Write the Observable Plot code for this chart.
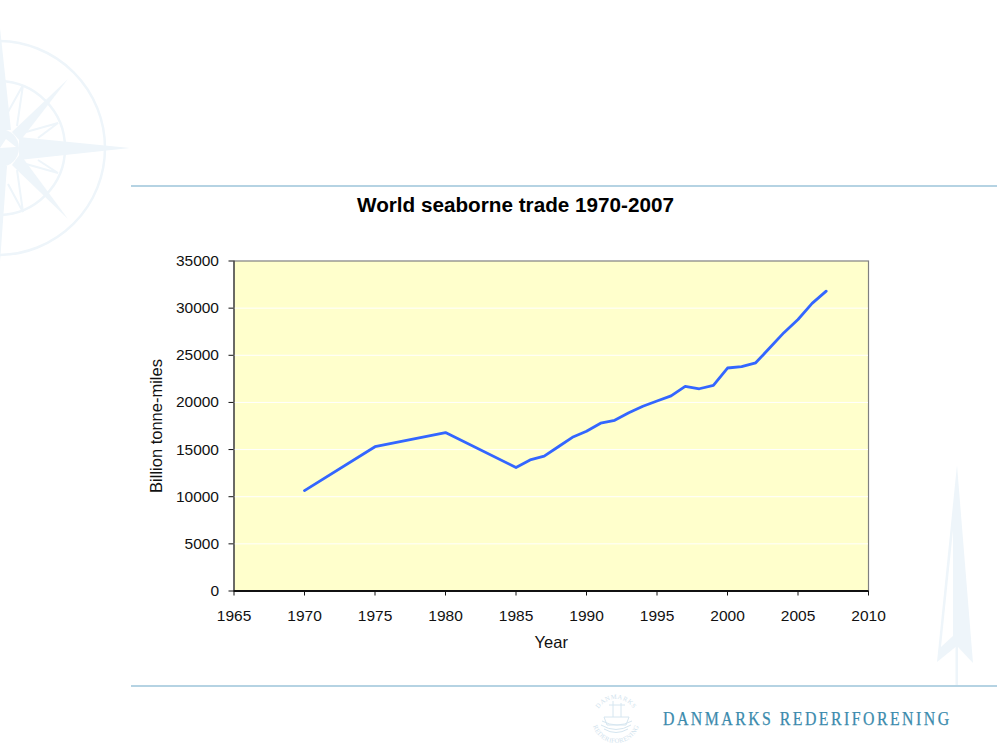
<!DOCTYPE html>
<html>
<head>
<meta charset="utf-8">
<script src="https://cdn.jsdelivr.net/npm/d3@7"></script>
<script src="https://cdn.jsdelivr.net/npm/@observablehq/plot@0.6"></script>
<style>
html,body{margin:0;padding:0;background:#fff;overflow:hidden}
#page{position:relative;width:997px;height:749px;overflow:hidden;font-family:"Liberation Sans",Arial,sans-serif}
#deco,#chart{position:absolute;left:0;top:0}
#chart svg{display:block;background:transparent}
#title{position:absolute;left:257px;width:517px;top:193px;text-align:center;font:bold 20.7px "Liberation Sans",Arial,sans-serif;color:#000;line-height:24px}
#brand{position:absolute;left:663px;top:708px;font:18px "Liberation Serif",serif;letter-spacing:2.8px;color:#3b8bad;line-height:22px;white-space:nowrap;-webkit-text-stroke:0.25px #3b8bad;transform:scaleX(0.88);transform-origin:left center}
</style>
</head>
<body>
<div id="page">
<svg id="deco" width="997" height="749" viewBox="0 0 997 749">
  <g fill="none" stroke="#eef5fa" stroke-width="2.5">
    <circle cx="-2" cy="148" r="107"/>
    <circle cx="-2" cy="148" r="67"/>
  </g>
  <g fill="#eef5fa">
    <polygon points="19,137 130,148 19,160"/>
    <polygon points="0,28 11,130 0,130"/>
    <polygon points="0,262 7,166 0,166"/>
    <polygon points="12,132 68,79 20,141"/>
    <polygon points="12,165 68,219 20,154"/>
    <circle cx="0" cy="148" r="19"/>
  </g>
  <g fill="none" stroke="#eef5fa" stroke-width="2">
    <polyline points="8,112 23,85 17,126"/>
    <polyline points="8,184 23,212 17,170"/>
    <polyline points="26,132 58,123 38,138"/>
    <polyline points="26,164 58,173 38,160"/>
  </g>
  <polygon fill="#ffffff" points="0,148 16,147 6,139"/>
  <path fill="#eef5fa" fill-rule="evenodd" d="M957,465 L973,663 L958,647 L958,685 L955.5,685 L955.5,647 L937,662 Z M953,530 L941,647 L953,636 Z"/>
  <line x1="131" x2="997" y1="186" y2="186" stroke="#9cc4da" stroke-width="1.4"/>
  <line x1="131" x2="997" y1="686" y2="686" stroke="#9cc4da" stroke-width="1.4"/>
  <g fill="none" stroke="#d6e6f0" stroke-width="1">
    <path d="M601,725 q15,9 30,0 M604,729 q12,7 24,0 M602,721 q15,8 30,0"/>
    <path d="M604,717 L629,717 L626,725 L607,725 Z M613,717 V701 M621,717 V703 M609,705 H625"/>
  </g>
  <defs>
    <path id="sealTop" d="M596,719 A20,20 0 0 1 636,719"/>
    <path id="sealBottom" d="M592,719 A24,24 0 0 0 640,719"/>
  </defs>
  <g fill="#cfe2ed" font-family="Liberation Serif, serif" font-size="6.5">
    <text letter-spacing="0.5"><textPath href="#sealTop" startOffset="50%" text-anchor="middle">DANMARKS</textPath></text>
    <text letter-spacing="0.3"><textPath href="#sealBottom" startOffset="50%" text-anchor="middle">REDERIFORENING</textPath></text>
  </g>
</svg>
<div id="chart"></div>
<div id="title">World seaborne trade 1970-2007</div>
<div id="brand">DANMARKS REDERIFORENING</div>
</div>
<script>
const years = [1970,1975,1980,1985,1986,1987,1988,1989,1990,1991,1992,1993,1994,1995,1996,1997,1998,1999,2000,2001,2002,2003,2004,2005,2006,2007];
const tonneMiles = [10650,15300,16800,13100,13900,14300,15300,16300,16950,17800,18100,18900,19600,20150,20700,21700,21450,21800,23650,23800,24200,25800,27400,28800,30500,31800];
const xTicks = [1965,1970,1975,1980,1985,1990,1995,2000,2005,2010];
const yTicks = [0,5000,10000,15000,20000,25000,30000,35000];
const gridTicks = [5000,10000,15000,20000,25000,30000];
const series = years.map((year,i)=>({year,value:tonneMiles[i]}));

const plot = Plot.plot({
  width: 997,
  height: 749,
  marginLeft: 233.5,
  marginRight: 129,
  marginTop: 260.5,
  marginBottom: 158.5,
  style: {fontFamily: '"Liberation Sans",Arial,sans-serif', fontSize: "15.5px", color: "#111", background: "transparent", overflow: "visible"},
  x: {domain: [1965,2010]},
  y: {domain: [0,35000]},
  marks: [
    Plot.frame({fill: "#ffffcc", stroke: "#808080", strokeWidth: 1.2}),
    Plot.ruleY(gridTicks, {stroke: "#ffffff", strokeWidth: 1}),
    Plot.axisY({ticks: yTicks, tickFormat: d=>String(d), tickSize: 5, tickPadding: 10, stroke: "#111", label: null, fontSize: 15.5}),
    Plot.axisX({ticks: xTicks, tickFormat: d=>String(d), tickSize: 5, tickPadding: 14, stroke: "#111", label: null, fontSize: 15.5}),
    Plot.axisY({ticks: [], label: "Billion tonne-miles", labelAnchor: "center", labelArrow: "none", labelOffset: 84, fontSize: 16.5}),
    Plot.axisX({ticks: [], label: "Year", labelAnchor: "center", labelArrow: "none", labelOffset: 57, fontSize: 16.5}),
    Plot.ruleX([1965], {stroke: "#222", strokeWidth: 1}),
    Plot.ruleY([0], {stroke: "#111", strokeWidth: 1.8}),
    Plot.line(series, {x: "year", y: "value", stroke: "#3366ff", strokeWidth: 2.8, curve: "linear"})
  ]
});
document.getElementById("chart").appendChild(plot);
</script>
</body>
</html>
